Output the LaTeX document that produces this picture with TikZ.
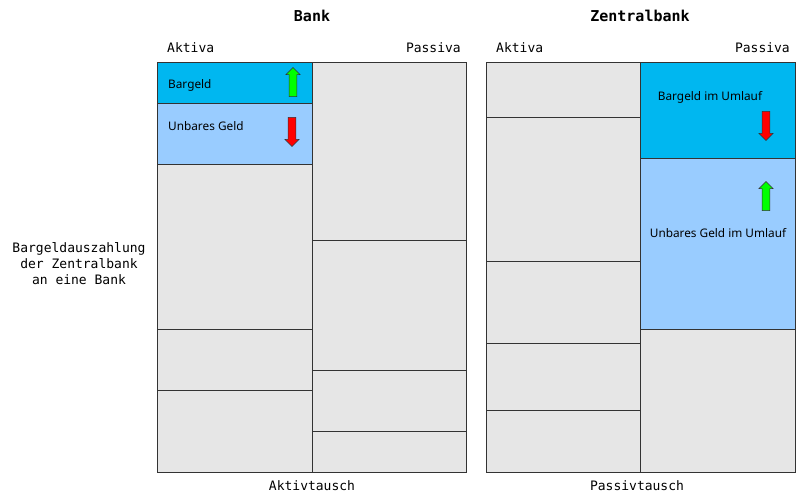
\documentclass[tikz,border=0pt]{standalone}
\usepackage{fontspec}
\setmainfont{Noto Sans}
\setmonofont{DejaVu Sans Mono}
\usetikzlibrary{shapes.arrows}
\definecolor{bargeld}{RGB}{0,183,240}
\definecolor{unbar}{RGB}{153,204,255}
\definecolor{leer}{RGB}{230,230,230}
\begin{document}
\begin{tikzpicture}[x=1pt,y=-1pt]
      \tikzset{cell/.style={draw=black!80,line width=0.9pt,anchor=north west,inner sep=0pt,fill=leer},
        lbl/.style={font=\ttfamily\fontsize{13}{16}\selectfont,inner sep=0pt},
        title/.style={font=\ttfamily\bfseries\fontsize{15}{18}\selectfont,inner sep=0pt},
        txt/.style={font=\fontsize{11.8}{14}\selectfont,inner sep=0pt},
        up/.style={single arrow,draw=black!80,line width=0.5pt,fill=green,shape border rotate=90,
          inner sep=3.5pt,minimum width=14pt,minimum height=29pt,
          single arrow head extend=3pt,single arrow head indent=0pt},
        down/.style={up,fill=red,shape border rotate=270}}
      \useasboundingbox (0,0) rectangle (800,500);
      % Bank
      \node[title] (bank) at (312,16) {Bank};
      \node[lbl,anchor=west] (bA) at (167,48) {Aktiva};
      \node[lbl,anchor=east] (bP) at (461,48) {Passiva};
      \node[cell,fill=bargeld,minimum width=155pt,minimum height=41pt] (b1) at (157,62) {};
      \node[cell,fill=unbar,minimum width=155pt,minimum height=61pt] (b2) at (157,103) {};
      \node[cell,minimum width=155pt,minimum height=165pt] (b3) at (157,164) {};
      \node[cell,minimum width=155pt,minimum height=61pt] (b4) at (157,329) {};
      \node[cell,minimum width=155pt,minimum height=82pt] (b5) at (157,390) {};
      \node[cell,minimum width=154pt,minimum height=178pt] (b6) at (312,62) {};
      \node[cell,minimum width=154pt,minimum height=130pt] (b7) at (312,240) {};
      \node[cell,minimum width=154pt,minimum height=61pt] (b8) at (312,370) {};
      \node[cell,minimum width=154pt,minimum height=41pt] (b9) at (312,431) {};
      \node[txt,anchor=west] (bg) at (168,85) {Bargeld};
      \node[txt,anchor=west] (ug) at (168,126) {Unbares Geld};
      \node[up] (bup) at (293,84) {};
      \node[down] (bdown) at (292,130) {};
      % Zentralbank
      \node[title] (zb) at (640,16) {Zentralbank};
      \node[lbl,anchor=west] (zA) at (496,48) {Aktiva};
      \node[lbl,anchor=east] (zP) at (790,48) {Passiva};
      \node[cell,minimum width=154pt,minimum height=55pt] (z1) at (486,62) {};
      \node[cell,minimum width=154pt,minimum height=144pt] (z2) at (486,117) {};
      \node[cell,minimum width=154pt,minimum height=82pt] (z3) at (486,261) {};
      \node[cell,minimum width=154pt,minimum height=67pt] (z4) at (486,343) {};
      \node[cell,minimum width=154pt,minimum height=62pt] (z5) at (486,410) {};
      \node[cell,fill=bargeld,minimum width=155pt,minimum height=96pt] (z6) at (640,62) {};
      \node[cell,fill=unbar,minimum width=155pt,minimum height=171pt] (z7) at (640,158) {};
      \node[cell,minimum width=155pt,minimum height=143pt] (z8) at (640,329) {};
      \node[txt] (bgu) at (710,97) {Bargeld im Umlauf};
      \node[txt] (ugu) at (718,233) {Unbares Geld im Umlauf};
      \node[down] (zdown) at (766,124) {};
      \node[up] (zup) at (766,198) {};
      % Beschriftung
      \node[lbl,align=center] (links) at (79,264) {Bargeldauszahlung\\der Zentralbank\\an eine Bank};
      \node[lbl] (at) at (312,486) {Aktivtausch};
      \node[lbl] (pt) at (637,486) {Passivtausch};
\end{tikzpicture}
\end{document}
